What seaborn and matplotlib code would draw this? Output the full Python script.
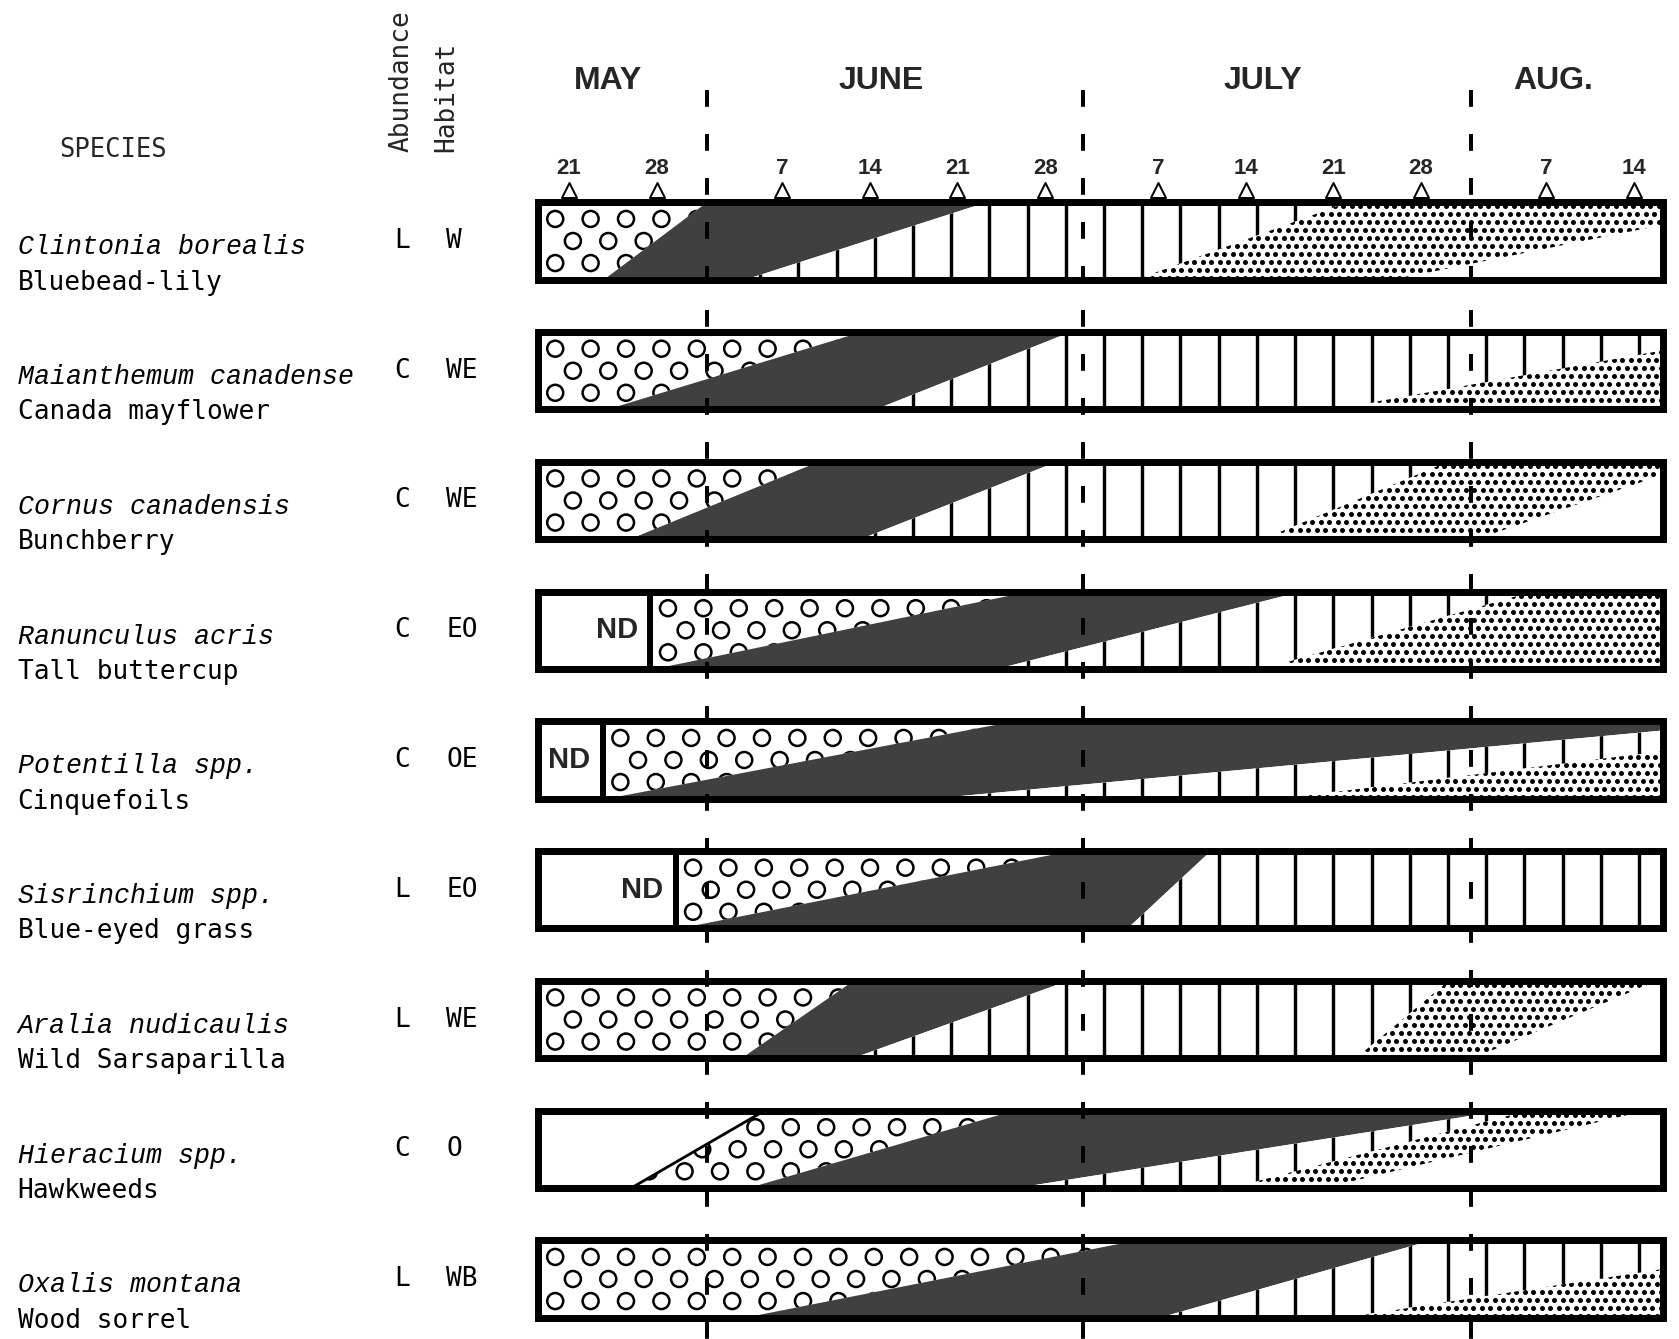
import numpy as np
import matplotlib
matplotlib.use("Agg")
import matplotlib.pyplot as plt
from matplotlib.patches import Rectangle, Polygon
import seaborn as sns

# Flowering and fruiting phenology of understory plants.
# Dates are days of the season: 1 = May 1, 32 = June 1, 62 = July 1, 93 = Aug 1.
nan = np.nan

species = ["Clintonia borealis", "Maianthemum canadense", "Cornus canadensis",
           "Ranunculus acris", "Potentilla spp.", "Sisrinchium spp.",
           "Aralia nudicaulis", "Hieracium spp.", "Oxalis montana"]
common_names = ["Bluebead-lily", "Canada mayflower", "Bunchberry",
                "Tall buttercup", "Cinquefoils", "Blue-eyed grass",
                "Wild Sarsaparilla", "Hawkweeds", "Wood sorrel"]
abundance = ["L", "C", "C", "C", "C", "L", "L", "C", "L"]
habitat = ["W", "WE", "WE", "EO", "OE", "EO", "WE", "O", "WB"]

# no observations before this day ("ND")
no_data_until = [nan, nan, nan, 27.5, 23.7, 29.5, nan, nan, nan]

# each phase boundary is a sloping front: day at the bottom edge, day at the top edge
# (nan = before / after the period of record)
bud_start_bottom = [nan, nan, nan, 27.5, 23.7, 29.5, nan, 26.0, nan]
bud_start_top = [nan, nan, nan, 27.5, 23.7, 29.5, nan, 36.6, nan]
flower_start_bottom = [23.8, 24.1, 25.9, 27.9, 24.1, 29.9, 34.8, 35.4, 35.1]
flower_start_top = [32.0, 44.3, 40.9, 57.7, 56.5, 61.0, 43.7, 56.5, 66.3]
fruit_start_bottom = [35.1, 45.5, 44.3, 55.2, 50.1, 65.6, 43.7, 56.8, 68.2]
fruit_start_top = [54.3, 61.0, 59.9, 79.4, 116.0, 72.2, 60.8, 95.5, 89.8]
ripe_start_bottom = [66.3, 82.1, 76.4, 76.4, 77.6, nan, 83.8, 73.9, 82.8]
ripe_start_top = [83.1, 116.5, 91.1, 97.8, 127.7, nan, 91.2, 97.5, 123.4]
ripe_end_bottom = [86.8, nan, 93.5, nan, nan, nan, 93.2, 81.3, nan]
ripe_end_top = [117.1, nan, 111.2, nan, nan, nan, 107.8, 106.9, nan]

month_names = ["MAY", "JUNE", "JULY", "AUG."]
month_start_day = [32, 62, 93]
tick_day = [21, 28, 38, 45, 52, 59, 68, 75, 82, 89, 99, 106]
tick_label = ["21", "28", "7", "14", "21", "28", "7", "14", "21", "28", "7", "14"]

# ---------------------------------------------------------------- layout
sns.set_theme(style="white")
plt.rcParams["font.family"] = ["DejaVu Sans"]

W, H, DPI = 1679, 1339, 200
PT = 72.0 / DPI                      # points per pixel
fig = plt.figure(figsize=(W / DPI, H / DPI), dpi=DPI)
fig.patch.set_facecolor("white")
ax = fig.add_axes([0, 0, 1, 1])
ax.set_xlim(-24.411, 109.587)
ax.set_ylim(8.4624, -1.8574)
ax.axis("off")

BAR_L, BAR_R = 18.5, 108.3           # period of record
HALF = 0.297                          # half bar height (rows)
DARK = "#404040"

mono = "DejaVu Sans Mono"
latin_font = "Liberation Mono"
head_font = "Liberation Sans"


def front(bottom, top, fallback):
    if np.isnan(bottom):
        return (fallback, fallback)
    return (bottom, top)


def band(y, left, right, **kw):
    (lb, lt), (rb, rt) = left, right
    poly = Polygon([(lb, y + HALF), (rb, y + HALF), (rt, y - HALF), (lt, y - HALF)],
                   closed=True, **kw)
    ax.add_patch(poly)
    return poly


for i in range(len(species)):
    y = i
    bg = Rectangle((BAR_L, y - HALF), BAR_R - BAR_L, 2 * HALF,
                   facecolor="white", edgecolor="none", zorder=1)
    ax.add_patch(bg)

    f0 = front(bud_start_bottom[i], bud_start_top[i], BAR_L - 5)
    f1 = front(flower_start_bottom[i], flower_start_top[i], BAR_R + 30)
    f2 = front(fruit_start_bottom[i], fruit_start_top[i], BAR_R + 30)
    f3 = front(ripe_start_bottom[i], ripe_start_top[i], BAR_R + 30)
    f4 = front(ripe_end_bottom[i], ripe_end_top[i], BAR_R + 30)

    # buds: open circles
    buds = band(y, f0, f1, facecolor="white", edgecolor="none", zorder=2)
    buds.set_clip_path(bg)
    x_first = max(BAR_L, min(f0)) + 1.4
    bx, by = [], []
    for dy, dx0 in ((-0.17, 0.0), (0.0, 1.41), (0.17, 0.0)):
        xs = np.arange(x_first + dx0, min(max(f1), BAR_R) + 2, 2.825)
        xs = xs[xs < BAR_R - 0.6]
        bx.extend(xs)
        by.extend([y + dy] * len(xs))
    circ = ax.scatter(bx, by, s=(16 * PT) ** 2, facecolors="none",
                      edgecolors="black", linewidths=2.5 * PT, zorder=3)
    circ.set_clip_path(buds)

    # flowers: dark shading
    fl = band(y, f1, f2, facecolor=DARK, edgecolor="none", zorder=2)
    fl.set_clip_path(bg)

    # green fruit: vertical strokes
    gf = band(y, f2, f3, facecolor="white", edgecolor="none", zorder=2)
    gf.set_clip_path(bg)
    vx = 39.3 + 3.05 * np.arange(-8, 25)
    vx = vx[(vx > BAR_L + 0.3) & (vx < BAR_R - 0.3)]
    vl = ax.vlines(vx, y - HALF, y + HALF, colors="black",
                   linewidths=3.4 * PT, zorder=3)
    vl.set_clip_path(gf)

    # ripe fruit: stipple
    if not np.isnan(ripe_start_bottom[i]):
        rp = band(y, f3, f4, facecolor="white", edgecolor="none", zorder=2)
        rp.set_clip_path(bg)
        dxs, dys = 0.68, 8.0 / 129.75
        sx, sy = [], []
        x_lo = max(BAR_L, min(f3)) - 0.5
        for j, yy in enumerate(np.arange(y - HALF + dys * 0.5, y + HALF, dys)):
            xs = np.arange(x_lo + (j % 2) * dxs / 2, BAR_R, dxs)
            sx.extend(xs)
            sy.extend([yy] * len(xs))
        dots = ax.scatter(sx, sy, s=(5.0 * PT) ** 2, color="black",
                          linewidths=0, zorder=3)
        dots.set_clip_path(rp)

    # sloping start of budding
    if not np.isnan(bud_start_bottom[i]) and bud_start_bottom[i] != bud_start_top[i]:
        ln, = ax.plot([bud_start_bottom[i], bud_start_top[i]], [y + HALF, y - HALF],
                      color="black", lw=2.8 * PT, zorder=4)
        ln.set_clip_path(bg)

    # no-data block
    if not np.isnan(no_data_until[i]):
        nd = no_data_until[i]
        ax.plot([nd, nd], [y - HALF, y + HALF], color="black", lw=6 * PT, zorder=6)
        ax.text(nd - 1.0, y, "ND", ha="right", va="center", fontsize=10.5,
                fontweight="bold", family=head_font, zorder=6)

    # bar outline
    ax.add_patch(Rectangle((BAR_L, y - HALF), BAR_R - BAR_L, 2 * HALF, fill=False,
                           edgecolor="black", lw=7 * PT, joinstyle="miter", zorder=7))

    # labels
    ax.text(-23.0, y + 0.05, species[i], ha="left", va="center", fontsize=9.6,
            family=latin_font, style="italic", color="black")
    ax.text(-23.0, y + 0.32, common_names[i], ha="left", va="center", fontsize=9.4,
            family=mono, color="black")
    ax.text(7.7, y, abundance[i], ha="center", va="center", fontsize=9.4,
            family=mono, color="black")
    ax.text(11.2, y, habitat[i], ha="left", va="center", fontsize=9.4,
            family=mono, color="black")

# month dividers
for d in month_start_day:
    ax.plot([d, d], [-1.16, 8.5], color="black", lw=4 * PT,
            ls=(0, (4.2, 6.8)), zorder=5, solid_capstyle="butt")

# month names, placed near the middle of the span each month covers
edges = [BAR_L] + month_start_day + [BAR_R]
for k, name in enumerate(month_names):
    ax.text((edges[k] + edges[k + 1]) / 2 - 1.1, -1.235, name, ha="center",
            va="center", fontsize=11.5, fontweight="bold", family=head_font)

# weekly ticks
sns.scatterplot(x=tick_day, y=[-0.395] * len(tick_day), marker="^",
                s=(15 * PT) ** 2, facecolor="white", edgecolor="black",
                linewidth=2 * PT, zorder=6, ax=ax, legend=False)
for d, lab in zip(tick_day, tick_label):
    ax.text(d, -0.555, lab, ha="center", va="center", fontsize=8,
            fontweight="bold", family=head_font)

# column headings
ax.text(-19.7, -0.70, "SPECIES", ha="left", va="center", fontsize=9.2, family=mono)
ax.text(7.6, -0.686, "Abundance", rotation=90, ha="center", va="bottom",
        fontsize=9.4, family=mono)
ax.text(11.2, -0.686, "Habitat", rotation=90, ha="center", va="bottom",
        fontsize=9.4, family=mono)

ax.set_xlim(-24.411, 109.587)
ax.set_ylim(8.4624, -1.8574)
fig.savefig("out.png", dpi=DPI, facecolor="white")
